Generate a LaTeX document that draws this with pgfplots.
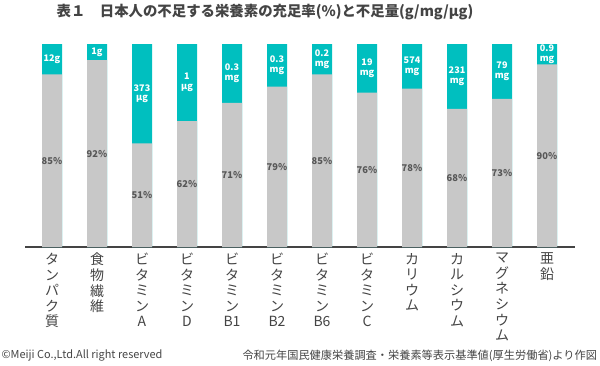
\documentclass[border=0pt]{standalone}
\usepackage{pgfplots}
\pgfplotsset{compat=1.18}
\usepackage{fontspec}
\setmainfont{Noto Sans CJK JP}
\definecolor{teal1}{HTML}{00BFBF}
\definecolor{bargray}{HTML}{C8C8C8}
\definecolor{txt}{HTML}{444444}
\begin{document}
\begin{tikzpicture}
\path[use as bounding box] (0,0) rectangle (450pt,273.75pt);
\begin{axis}[
 at={(18.75pt,88.5pt)}, anchor=south west, scale only axis,
 width=412.5pt, height=152.25pt,
 xmin=-0.6, xmax=11.622, ymin=0, ymax=100,
 axis x line=bottom, axis y line=none,
 axis line style={-, draw=txt, line width=0.8pt},
 xtick={0,...,11}, major tick length=0pt,
 xticklabels={{タ\\ン\\パ\\ク\\質},{食\\物\\繊\\維},{ビ\\タ\\ミ\\ン\\A},{ビ\\タ\\ミ\\ン\\D},{ビ\\タ\\ミ\\ン\\B1},{ビ\\タ\\ミ\\ン\\B2},{ビ\\タ\\ミ\\ン\\B6},{ビ\\タ\\ミ\\ン\\C},{カ\\リ\\ウ\\ム},{カ\\ル\\シ\\ウ\\ム},{マ\\グ\\ネ\\シ\\ウ\\ム},{亜\\鉛}},
 xticklabel style={anchor=north, align=center, font=\fontsize{10.5}{11.7}\selectfont, text=txt, yshift=-1pt},
 ytick=\empty, clip=false,
 /pgf/number format/assume math mode=true
]
\addplot[ybar, bar width=15pt, bar shift=0pt, fill=teal1, draw=none] coordinates {(0,100) (1,100) (2,100) (3,100) (4,100) (5,100) (6,100) (7,100) (8,100) (9,100) (10,100) (11,100)};
\addplot[ybar, bar width=15pt, bar shift=0pt, fill=bargray, draw=none] coordinates {(0,85) (1,92) (2,51) (3,62) (4,71) (5,79) (6,85) (7,76) (8,78) (9,68) (10,73) (11,90)};
\addplot[draw=none, mark=none, nodes near coords, point meta=explicit symbolic,
  every node near coord/.style={anchor=center, font=\bfseries\fontsize{7}{8}\selectfont, text=txt!90}]
  coordinates {(0,42.5)[85\%] (1,46)[92\%] (2,25.5)[51\%] (3,31)[62\%] (4,35.5)[71\%] (5,39.5)[79\%] (6,42.5)[85\%] (7,38)[76\%] (8,39)[78\%] (9,34)[68\%] (10,36.5)[73\%] (11,45)[90\%]};
\addplot[draw=none, mark=none, nodes near coords, point meta=explicit symbolic,
  every node near coord/.style={anchor=center, align=center, font=\bfseries\fontsize{6.8}{7.2}\selectfont, text=white}]
  coordinates {(0,92.5)[12g] (1,96)[1g] (2,75.5)[373\\µg] (3,81)[1\\µg] (4,85.5)[0.3\\mg] (5,89.5)[0.3\\mg] (6,92.5)[0.2\\mg] (7,88)[19\\mg] (8,89)[574\\mg] (9,84)[231\\mg] (10,86.5)[79\\mg] (11,95)[0.9\\mg]};
\end{axis}
\node[font=\bfseries\fontsize{10.8}{12}\selectfont, text=txt, inner sep=0pt] at (198.75pt,265pt) {表１　日本人の不足する栄養素の充足率(\%)と不足量(g/mg/µg)};
\node[font=\fontsize{8.2}{9}\selectfont, text=txt, anchor=west, inner sep=0pt] at (1pt,7pt) {©Meiji Co.,Ltd.All right reserved};
\node[font=\fontsize{8.4}{9}\selectfont, text=txt, anchor=east, inner sep=0pt] at (448pt,7pt) {令和元年国民健康栄養調査・栄養素等表示基準値(厚生労働省)より作図};
\end{tikzpicture}
\end{document}
